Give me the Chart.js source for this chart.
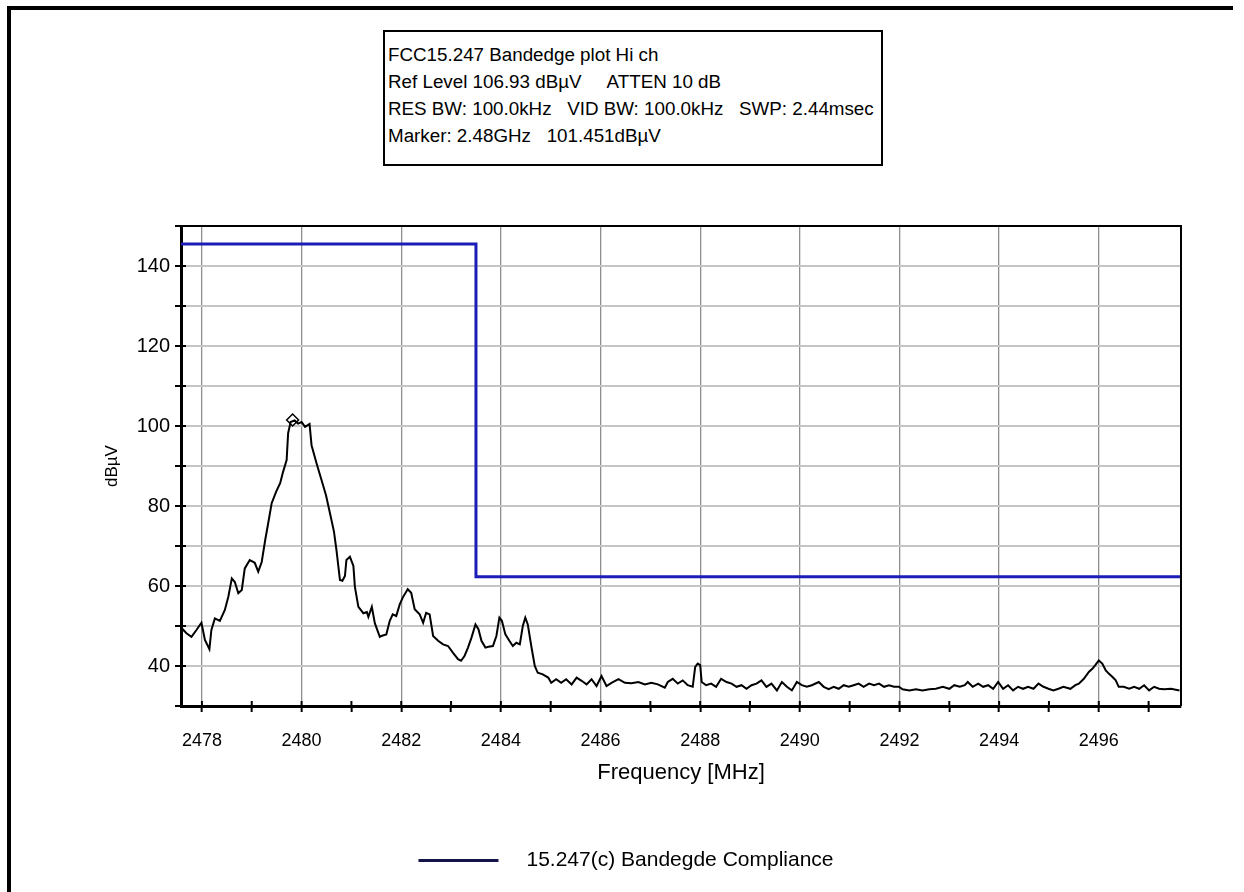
<!DOCTYPE html>
<html>
<head>
<meta charset="utf-8">
<script src="https://cdn.jsdelivr.net/npm/chart.js@4.4.1/dist/chart.umd.min.js"></script>
<style>
  html, body { margin: 0; padding: 0; background: #fff; }
  #wrap { position: relative; width: 1244px; height: 892px; overflow: hidden; }
  #frame { position: absolute; left: 7px; top: 6px; width: 1222px; height: 900px;
           border-top: 4px solid #000; border-left: 4px solid #000; }
  #info { position: absolute; left: 383px; top: 30px; width: 493px; height: 123px;
          border: 2px solid #000; background: #fff; padding: 9px 0 0 3px;
          font-family: "Liberation Sans", Arial, sans-serif; font-size: 18.8px; line-height: 27px;
          white-space: pre; color: #000; }
  canvas { position: absolute; left: 0; top: 0; }
</style>
</head>
<body>
<div id="wrap">
  <div id="frame"></div>
  <canvas id="bandedge" width="1244" height="892"></canvas>
  <div id="info">FCC15.247 Bandedge plot Hi ch
Ref Level 106.93 dBµV     ATTEN 10 dB
RES BW: 100.0kHz   VID BW: 100.0kHz   SWP: 2.44msec
Marker: 2.48GHz   101.451dBµV</div>
</div>
<script>
const freqs = [
  2477.59, 2477.69, 2477.79, 2477.89, 2477.99, 2478.06, 2478.15, 2478.19, 2478.26, 2478.36,
  2478.46, 2478.53, 2478.60, 2478.66, 2478.73, 2478.80, 2478.86, 2478.96, 2479.06, 2479.13,
  2479.20, 2479.27, 2479.33, 2479.40, 2479.49, 2479.57, 2479.63, 2479.70, 2479.73, 2479.78,
  2479.86, 2479.93, 2480.00, 2480.07, 2480.16, 2480.20, 2480.30, 2480.40, 2480.49, 2480.57,
  2480.65, 2480.70, 2480.77, 2480.82, 2480.87, 2480.90, 2480.97, 2481.04, 2481.07, 2481.14,
  2481.24, 2481.31, 2481.34, 2481.41, 2481.47, 2481.57,
  2481.60, 2481.70, 2481.77, 2481.83, 2481.90, 2481.97, 2482.03, 2482.13, 2482.20, 2482.27,
  2482.37, 2482.44, 2482.50, 2482.57, 2482.64, 2482.74, 2482.84, 2482.94, 2483.04, 2483.14,
  2483.20, 2483.27, 2483.34, 2483.41, 2483.49, 2483.55, 2483.61, 2483.69, 2483.75, 2483.84,
  2483.91, 2483.97, 2484.02, 2484.09, 2484.17, 2484.24, 2484.31, 2484.38, 2484.44, 2484.49,
  2484.54, 2484.61, 2484.68, 2484.74, 2484.84, 2484.95, 2485.01, 2485.11, 2485.21, 2485.31,
  2485.42, 2485.52, 2485.62, 2485.72, 2485.82, 2485.92, 2486.02, 2486.12, 2486.22, 2486.36,
  2486.49, 2486.62, 2486.76, 2486.89, 2487.02, 2487.15, 2487.29,
  2487.35, 2487.45, 2487.55, 2487.65, 2487.75, 2487.85, 2487.90, 2487.95, 2488.00, 2488.03,
  2488.12, 2488.22, 2488.32, 2488.42, 2488.53, 2488.63, 2488.73, 2488.83, 2488.93, 2489.03,
  2489.13, 2489.23, 2489.33, 2489.43, 2489.54, 2489.64, 2489.74, 2489.84, 2489.94, 2490.04,
  2490.14, 2490.24, 2490.38, 2490.48, 2490.58, 2490.68, 2490.78, 2490.88, 2490.98, 2491.08,
  2491.18, 2491.28, 2491.39, 2491.49, 2491.59, 2491.69, 2491.79, 2491.89, 2491.99, 2492.06,
  2492.20, 2492.33, 2492.46, 2492.60, 2492.73, 2492.87, 2493.00, 2493.10, 2493.21, 2493.31,
  2493.37, 2493.47, 2493.58, 2493.68, 2493.78, 2493.88, 2493.98, 2494.08, 2494.18, 2494.28,
  2494.38, 2494.48, 2494.58, 2494.69, 2494.79, 2494.89, 2494.99, 2495.09, 2495.19, 2495.29,
  2495.43, 2495.53, 2495.60, 2495.70, 2495.80, 2495.87, 2495.93, 2496.00, 2496.07, 2496.14,
  2496.20, 2496.27, 2496.34, 2496.40, 2496.50, 2496.61, 2496.71, 2496.81, 2496.91, 2497.01,
  2497.11, 2497.21, 2497.31, 2497.45, 2497.62
];
const levels = [
  49.5, 48.2, 47.3, 49.0, 50.8, 46.5, 44.2, 49.0, 51.9, 51.3,
  54.0, 57.3, 61.9, 61.0, 58.2, 59.0, 64.4, 66.5, 65.8, 63.6,
  66.0, 71.5, 75.7, 80.7, 83.6, 85.7, 88.6, 91.5, 98.2, 101.0,
  101.4, 100.6, 101.0, 99.8, 100.5, 95.2, 90.7, 86.5, 82.7, 78.2,
  73.6, 69.0, 61.5, 61.3, 62.5, 66.5, 67.3, 65.0, 59.8, 54.8,
  53.2, 53.5, 52.3, 54.8, 50.7, 47.3,
  47.5, 47.9, 51.3, 52.9, 52.5, 55.4, 57.1, 59.2, 58.3, 54.2,
  52.9, 50.8, 53.3, 52.9, 47.5, 46.3, 45.4, 45.0, 43.3, 41.7,
  41.3, 42.5, 44.6, 47.1, 50.4, 49.2, 46.3, 44.6, 44.8, 45.0,
  47.5, 52.1, 51.3, 47.9, 46.3, 45.0, 45.8, 45.4, 50.0, 52.1,
  50.4, 45.0, 40.0, 38.3, 37.9, 37.1, 35.8, 36.7, 35.8, 36.7,
  35.4, 37.1, 36.3, 35.4, 36.7, 35.0, 37.5, 35.0, 35.8, 36.7,
  35.8, 35.7, 36.0, 35.4, 35.8, 35.4, 34.6,
  36.0, 36.8, 35.6, 36.4, 35.2, 34.8, 39.8, 40.6, 40.2, 36.0,
  35.2, 35.6, 34.8, 36.8, 36.0, 35.6, 34.8, 35.2, 34.3, 35.2,
  35.6, 36.4, 34.8, 35.6, 33.9, 36.0, 34.8, 33.9, 36.0, 35.2,
  34.8, 35.2, 36.0, 34.8, 34.2, 34.8, 34.3, 35.2, 34.8, 35.2,
  35.6, 34.8, 35.6, 35.2, 35.6, 34.8, 35.2, 34.8, 34.8, 34.2,
  33.9, 34.2, 33.9, 34.2, 34.3, 34.8, 34.3, 35.2, 34.8, 35.2,
  36.0, 34.8, 35.6, 34.8, 35.2, 34.3, 36.0, 34.3, 35.2, 33.9,
  34.8, 34.3, 34.8, 34.3, 35.6, 34.8, 34.3, 33.9, 34.3, 34.8,
  34.3, 35.2, 35.6, 36.8, 38.5, 39.3, 40.2, 41.4, 40.6, 38.9,
  38.1, 37.3, 36.4, 34.8, 34.8, 34.3, 34.8, 34.3, 35.2, 33.9,
  34.8, 34.3, 34.2, 34.3, 33.9
];

// 15.247(c) limit line
const limitFreqs = [2477.58, 2483.5, 2483.5, 2497.65];
const limitLevels = [145.5, 145.5, 62.3, 62.3];

// marker
const markerFreqs = [2479.82];
const markerLevels = [101.5];

// axis ticks
const xTicks = [2478, 2479, 2480, 2481, 2482, 2483, 2484, 2485, 2486, 2487, 2488,
                2489, 2490, 2491, 2492, 2493, 2494, 2495, 2496, 2497];
const xLabels = [2478, 2480, 2482, 2484, 2486, 2488, 2490, 2492, 2494, 2496];
const yTicks = [30, 40, 50, 60, 70, 80, 90, 100, 110, 120, 130, 140, 150];
const yLabels = [40, 60, 80, 100, 120, 140];

const font = "'Liberation Sans', Arial, sans-serif";

const toPoints = (xs, ys) => xs.map((x, i) => ({x: x, y: ys[i]}));

// top/right plot border + ticks that cross the axis line
const plotFrame = {
  id: 'plotFrame',
  afterDraw(chart) {
    const ctx = chart.ctx;
    const a = chart.chartArea;
    ctx.save();
    ctx.strokeStyle = '#000';
    ctx.lineWidth = 2;
    ctx.beginPath();
    ctx.moveTo(a.left, a.top);
    ctx.lineTo(a.right, a.top);
    ctx.lineTo(a.right, a.bottom);
    ctx.stroke();
    const xs = chart.scales.x, ys = chart.scales.y;
    ctx.beginPath();
    xs.ticks.forEach(t => {
      const px = xs.getPixelForValue(t.value);
      ctx.moveTo(px, a.bottom - 5);
      ctx.lineTo(px, a.bottom);
    });
    ys.ticks.forEach(t => {
      const py = ys.getPixelForValue(t.value);
      ctx.moveTo(a.left, py);
      ctx.lineTo(a.left + 5, py);
    });
    ctx.stroke();
    ctx.restore();
  }
};

const chart = new Chart(document.getElementById('bandedge'), {
  type: 'line',
  data: {
    datasets: [
      {
        label: '15.247(c) Bandegde Compliance',
        data: toPoints(limitFreqs, limitLevels),
        borderColor: '#1c1cb8',
        borderWidth: 3,
        pointRadius: 0,
        tension: 0
      },
      {
        label: 'trace',
        data: toPoints(freqs, levels),
        borderColor: '#000',
        borderWidth: 2,
        pointRadius: 0,
        tension: 0
      },
      {
        label: 'marker',
        data: toPoints(markerFreqs, markerLevels),
        showLine: false,
        pointStyle: 'rectRot',
        pointRadius: 6,
        pointBorderWidth: 1.5,
        pointBorderColor: '#000',
        pointBackgroundColor: 'rgba(0,0,0,0)'
      }
    ]
  },
  options: {
    responsive: false,
    animation: false,
    devicePixelRatio: 1,
    layout: { padding: { left: 71, right: 63, top: 226, bottom: 11 } },
    plugins: {
      tooltip: { enabled: false },
      legend: {
        position: 'bottom',
        labels: {
          generateLabels: () => [{
            text: '   15.247(c) Bandegde Compliance',
            fillStyle: '#141448',
            strokeStyle: '#141448',
            lineWidth: 0,
            datasetIndex: 0
          }],
          boxWidth: 80,
          boxHeight: 3,
          padding: 10,
          color: '#000',
          font: { family: font, size: 21 }
        }
      }
    },
    scales: {
      x: {
        type: 'linear',
        min: 2477.58,
        max: 2497.65,
        afterFit: s => { s.height = 134; },
        afterBuildTicks: s => { s.ticks = xTicks.map(v => ({value: v})); },
        ticks: {
          callback: v => xLabels.includes(v) ? String(v) : '',
          color: '#000',
          padding: 18,
          maxRotation: 0,
          autoSkip: false,
          font: { family: font, size: 18 }
        },
        grid: {
          color: c => (c.tick && xLabels.includes(c.tick.value)) ? '#8e8e8e' : 'rgba(0,0,0,0)',
          lineWidth: 1.3,
          tickColor: '#000',
          tickLength: 6,
          tickWidth: 2
        },
        border: { color: '#000', width: 3 },
        title: {
          display: true,
          text: 'Frequency [MHz]',
          color: '#000',
          font: { family: font, size: 22 },
          padding: { top: 0, bottom: 54 }
        }
      },
      y: {
        min: 30,
        max: 150,
        afterFit: s => { s.width = 110; },
        afterBuildTicks: s => { s.ticks = yTicks.map(v => ({value: v})); },
        ticks: {
          callback: v => yLabels.includes(v) ? String(v) : '',
          color: '#000',
          padding: 5,
          autoSkip: false,
          font: { family: font, size: 20 }
        },
        grid: {
          color: '#c4c4c4',
          lineWidth: 2,
          tickColor: '#000',
          tickLength: 6,
          tickWidth: 2
        },
        border: { color: '#000', width: 3 },
        title: {
          display: true,
          text: 'dBµV',
          color: '#000',
          font: { family: font, size: 17 },
          padding: { top: 31, bottom: 0 }
        }
      }
    }
  },
  plugins: [plotFrame]
});
</script>
</body>
</html>
